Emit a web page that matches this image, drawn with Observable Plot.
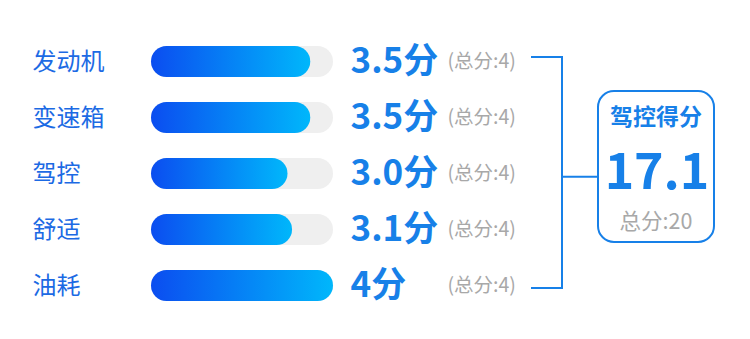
<!DOCTYPE html>
<html><head><meta charset="utf-8">
<script src="https://cdn.jsdelivr.net/npm/d3@7"></script>
<script src="https://cdn.jsdelivr.net/npm/@observablehq/plot@0.6"></script>
<style>
html,body{margin:0;padding:0;background:#fff;}
#chart{width:750px;height:339px;}
</style></head><body><div id="chart"></div>
<script>
const categories = ["发动机", "变速箱", "驾控", "舒适", "油耗"];
const scores = [3.5, 3.5, 3.0, 3.1, 4];
const scoreLabels = ["3.5分", "3.5分", "3.0分", "3.1分", "4分"];
const maxScores = [4, 4, 4, 4, 4];
const totalTitle = "驾控得分";
const totalScore = "17.1";
const totalMax = 20;

const data = categories.map((c, i) => ({cat: c, score: scores[i], label: scoreLabels[i], max: maxScores[i]}));
const FONT = '"Noto Sans CJK SC","Noto Sans",sans-serif';
const BLUE = "#1780e8";
const LABEL_BLUE = "#1c6ae4";
const GRAY = "#a8a8a8";
const Y_RANGE = [20.1, 327.3];
const Y_PAD = 0.45;

const defs = () => {
  const d = d3.create("svg:defs");
  const g = d.append("linearGradient").attr("id", "barGrad")
    .attr("x1", "0").attr("x2", "1").attr("y1", "0").attr("y2", "0");
  g.append("stop").attr("offset", "0%").attr("stop-color", "#0b4df0");
  g.append("stop").attr("offset", "100%").attr("stop-color", "#00b7fb");
  return d.node();
};

const plot = Plot.plot({
  width: 750, height: 339, margin: 0,
  x: {domain: [0, 4], range: [151, 333], axis: null},
  y: {domain: categories, range: Y_RANGE, padding: Y_PAD, axis: null},
  style: {fontFamily: FONT, background: "#fff"},
  marks: [
    defs,
    Plot.barX(data, {y: "cat", x1: 0, x2: "max", fill: "#efefef", rx: 15.5}),
    Plot.barX(data, {y: "cat", x1: 0, x2: "score", fill: "url(#barGrad)", rx: 15.5}),
    Plot.text(data, {y: "cat", text: "cat", frameAnchor: "left", dx: 32, fontSize: 24, fill: LABEL_BLUE, textAnchor: "start"}),
    Plot.text(data, {y: "cat", text: "label", frameAnchor: "left", dx: 350, fontSize: 35, fontWeight: 700, fill: BLUE, textAnchor: "start"}),
    Plot.text(data, {y: "cat", text: d => `(总分:${d.max})`, frameAnchor: "left", dx: 447, fontSize: 19.5, fill: GRAY, textAnchor: "start"})
  ]
});

// summary bracket and box
const yb = d3.scaleBand().domain(categories).range(Y_RANGE).padding(Y_PAD);
const cy = c => yb(c) + yb.bandwidth() / 2;
const svg = d3.select(plot);
const yTop = cy(categories[0]) - 4;
const yBot = cy(categories[categories.length - 1]) + 1.5;
const yMid = cy(categories[2]) + 3;
const g = svg.append("g").attr("fill", "none").attr("stroke", BLUE).attr("stroke-width", 2);
g.append("path").attr("d", `M531,${yTop}H562V${yBot}H531`);
g.append("path").attr("d", `M562,${yMid}H598`);
g.append("rect").attr("x", 598).attr("y", 91).attr("width", 116).attr("height", 151).attr("rx", 16).attr("fill", "#fff");
const t = svg.append("g").attr("font-family", FONT).attr("text-anchor", "middle");
t.append("text").attr("x", 656).attr("y", 117).attr("dy", "0.35em").attr("font-size", 23).attr("font-weight", 700).attr("fill", BLUE).text(totalTitle);
t.append("text").attr("x", 657).attr("y", 171).attr("dy", "0.35em").attr("font-size", 50).attr("font-weight", 700).attr("fill", BLUE).text(totalScore);
t.append("text").attr("x", 656).attr("y", 221).attr("dy", "0.35em").attr("font-size", 21.5).attr("fill", GRAY).text(`总分:${totalMax}`);

document.getElementById("chart").appendChild(plot);
</script></body></html>
